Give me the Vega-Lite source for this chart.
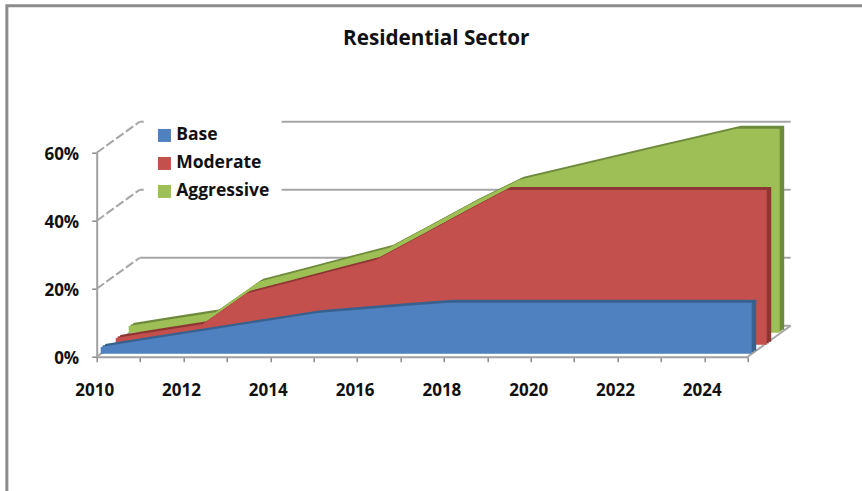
{
  "$schema": "https://vega.github.io/schema/vega-lite/v6.json",
  "width": 651,
  "height": 204,
  "autosize": {"type": "none"},
  "padding": {"left": 96.7, "top": 152.7, "right": 114.3, "bottom": 134.3},
  "background": "white",
  "title": {
    "text": "Residential Sector",
    "font": "Open Sans",
    "fontWeight": "bold",
    "fontSize": 20.7,
    "color": "#111111",
    "anchor": "middle",
    "dx": 14,
    "offset": -45
  },
  "config": {"view": {"stroke": null}},
  "datasets": {
    "walls": [
      {"start": 2010, "end": 2025, "level": 0},
      {"start": 2010, "end": 2025, "level": 0.2},
      {"start": 2010, "end": 2025, "level": 0.4},
      {"start": 2010, "end": 2025, "level": 0.6}
    ],
    "receding": [
      {"start": 2010, "level": 0},
      {"start": 2010, "level": 0.2},
      {"start": 2010, "level": 0.4},
      {"start": 2010, "level": 0.6}
    ],
    "series": [
      {"year": 2010, "series": "Base", "value": 0.02},
      {"year": 2011, "series": "Base", "value": 0.04},
      {"year": 2012, "series": "Base", "value": 0.06},
      {"year": 2013, "series": "Base", "value": 0.08},
      {"year": 2014, "series": "Base", "value": 0.10},
      {"year": 2015, "series": "Base", "value": 0.12},
      {"year": 2016, "series": "Base", "value": 0.13},
      {"year": 2017, "series": "Base", "value": 0.14},
      {"year": 2018, "series": "Base", "value": 0.15},
      {"year": 2019, "series": "Base", "value": 0.15},
      {"year": 2020, "series": "Base", "value": 0.15},
      {"year": 2021, "series": "Base", "value": 0.15},
      {"year": 2022, "series": "Base", "value": 0.15},
      {"year": 2023, "series": "Base", "value": 0.15},
      {"year": 2024, "series": "Base", "value": 0.15},
      {"year": 2025, "series": "Base", "value": 0.15},
      {"year": 2010, "series": "Moderate", "value": 0.02},
      {"year": 2011, "series": "Moderate", "value": 0.04},
      {"year": 2012, "series": "Moderate", "value": 0.06},
      {"year": 2013, "series": "Moderate", "value": 0.15},
      {"year": 2014, "series": "Moderate", "value": 0.183},
      {"year": 2015, "series": "Moderate", "value": 0.217},
      {"year": 2016, "series": "Moderate", "value": 0.25},
      {"year": 2017, "series": "Moderate", "value": 0.318},
      {"year": 2018, "series": "Moderate", "value": 0.387},
      {"year": 2019, "series": "Moderate", "value": 0.455},
      {"year": 2020, "series": "Moderate", "value": 0.455},
      {"year": 2021, "series": "Moderate", "value": 0.455},
      {"year": 2022, "series": "Moderate", "value": 0.455},
      {"year": 2023, "series": "Moderate", "value": 0.455},
      {"year": 2024, "series": "Moderate", "value": 0.455},
      {"year": 2025, "series": "Moderate", "value": 0.455},
      {"year": 2010, "series": "Aggressive", "value": 0.02},
      {"year": 2011, "series": "Aggressive", "value": 0.04},
      {"year": 2012, "series": "Aggressive", "value": 0.06},
      {"year": 2013, "series": "Aggressive", "value": 0.15},
      {"year": 2014, "series": "Aggressive", "value": 0.183},
      {"year": 2015, "series": "Aggressive", "value": 0.217},
      {"year": 2016, "series": "Aggressive", "value": 0.25},
      {"year": 2017, "series": "Aggressive", "value": 0.318},
      {"year": 2018, "series": "Aggressive", "value": 0.387},
      {"year": 2019, "series": "Aggressive", "value": 0.45},
      {"year": 2020, "series": "Aggressive", "value": 0.48},
      {"year": 2021, "series": "Aggressive", "value": 0.51},
      {"year": 2022, "series": "Aggressive", "value": 0.54},
      {"year": 2023, "series": "Aggressive", "value": 0.57},
      {"year": 2024, "series": "Aggressive", "value": 0.60},
      {"year": 2025, "series": "Aggressive", "value": 0.60}
    ]
  },
  "data": {"name": "series"},
  "encoding": {
    "x": {
      "field": "year",
      "type": "quantitative",
      "title": null,
      "scale": {"domain": [2010, 2025], "nice": false, "zero": false},
      "axis": {
        "values": [2010, 2011, 2012, 2013, 2014, 2015, 2016, 2017, 2018, 2019, 2020, 2021, 2022, 2023, 2024, 2025],
        "labelExpr": "datum.value % 2 === 0 && datum.value < 2025 ? format(datum.value, 'd') : ''",
        "grid": false,
        "labelFont": "Open Sans",
        "labelFontWeight": "bold",
        "labelFontSize": 17,
        "labelColor": "#111111",
        "labelPadding": 21,
        "labelOffset": -2.5,
        "labelOverlap": false,
        "labelFlush": false,
        "tickSize": 5,
        "tickColor": "#8a8a8a",
        "tickWidth": 1.5,
        "domainColor": "#a0a0a0",
        "domainWidth": 2
      }
    },
    "y": {
      "field": "value",
      "type": "quantitative",
      "title": null,
      "scale": {"domain": [0, 0.6], "nice": false},
      "axis": {
        "values": [0, 0.2, 0.4, 0.6],
        "format": ".0%",
        "grid": false,
        "labelFont": "Open Sans",
        "labelFontWeight": "bold",
        "labelFontSize": 17,
        "labelColor": "#111111",
        "labelPadding": 13,
        "labelOffset": 2,
        "tickSize": 5,
        "tickColor": "#8a8a8a",
        "tickWidth": 1.5,
        "domainColor": "#a0a0a0",
        "domainWidth": 2
      }
    }
  },
  "layer": [
    {
      "description": "Outer chart frame",
      "data": {"values": [{"left": 2007.93, "right": 2028, "bottom": -0.42, "top": 1.032}]},
      "mark": {"type": "rect", "fill": null, "stroke": "#8c8c8c", "strokeWidth": 3, "clip": false},
      "encoding": {
        "x": {"field": "left", "type": "quantitative", "title": null},
        "x2": {"field": "right"},
        "y": {"field": "bottom", "type": "quantitative", "title": null},
        "y2": {"field": "top"}
      }
    },
    {
      "description": "Back wall gridlines",
      "data": {"name": "walls"},
      "mark": {"type": "rule", "stroke": "#a6a6a6", "strokeWidth": 2, "xOffset": 43, "x2Offset": 43, "yOffset": -31},
      "encoding": {
        "x": {"field": "start", "type": "quantitative", "title": null},
        "x2": {"field": "end"},
        "y": {"field": "level", "type": "quantitative", "title": null}
      }
    },
    {
      "description": "Side wall receding lines",
      "data": {"name": "receding"},
      "mark": {"type": "rule", "stroke": "#a6a6a6", "strokeWidth": 2, "strokeDash": [9, 3], "x2Offset": 43, "y2Offset": -31},
      "encoding": {
        "x": {"field": "start", "type": "quantitative", "title": null},
        "x2": {"field": "start"},
        "y": {"field": "level", "type": "quantitative", "title": null},
        "y2": {"field": "level"}
      }
    },
    {
      "description": "Floor edge at the right",
      "data": {"values": [{"start": 2025, "level": 0}]},
      "mark": {"type": "rule", "stroke": "#a6a6a6", "strokeWidth": 2, "x2Offset": 43, "y2Offset": -31},
      "encoding": {
        "x": {"field": "start", "type": "quantitative", "title": null},
        "x2": {"field": "start"},
        "y": {"field": "level", "type": "quantitative", "title": null},
        "y2": {"field": "level"}
      }
    },
    {
      "description": "Aggressive depth",
      "transform": [{"filter": "datum.series === 'Aggressive'"}],
      "mark": {"type": "area", "color": "#6e8a3c", "xOffset": 36.5, "yOffset": -27, "y2Offset": -27},
      "encoding": {"y2": {"datum": 0}}
    },
    {
      "description": "Aggressive depth, midway",
      "transform": [{"filter": "datum.series === 'Aggressive'"}],
      "mark": {"type": "area", "color": "#6e8a3c", "xOffset": 34, "yOffset": -25.5, "y2Offset": -25.5},
      "encoding": {"y2": {"datum": 0}}
    },
    {
      "description": "Aggressive face",
      "transform": [{"filter": "datum.series === 'Aggressive'"}],
      "mark": {"type": "area", "xOffset": 32, "yOffset": -24, "y2Offset": -24},
      "encoding": {
        "y2": {"datum": 0},
        "color": {
          "field": "series",
          "type": "nominal",
          "title": null,
          "scale": {"domain": ["Base", "Moderate", "Aggressive"], "range": ["#4f81c0", "#c4504d", "#9dbf56"]},
          "legend": {
            "orient": "none",
            "legendX": 47,
            "legendY": -38,
            "padding": 12,
            "fillColor": "white",
            "symbolType": "square",
            "symbolSize": 169,
            "symbolStrokeWidth": 0,
            "labelFont": "Open Sans",
            "labelFontWeight": "bold",
            "labelFontSize": 17.5,
            "labelColor": "#111111",
            "labelOffset": 3,
            "rowPadding": 9
          }
        }
      }
    },
    {
      "description": "Moderate depth",
      "transform": [{"filter": "datum.series === 'Moderate'"}],
      "mark": {"type": "area", "color": "#8e3634", "xOffset": 23.5, "yOffset": -15, "y2Offset": -15},
      "encoding": {"y2": {"datum": 0}}
    },
    {
      "description": "Moderate depth, midway",
      "transform": [{"filter": "datum.series === 'Moderate'"}],
      "mark": {"type": "area", "color": "#8e3634", "xOffset": 21, "yOffset": -13.5, "y2Offset": -13.5},
      "encoding": {"y2": {"datum": 0}}
    },
    {
      "description": "Moderate face",
      "transform": [{"filter": "datum.series === 'Moderate'"}],
      "mark": {"type": "area", "xOffset": 19, "yOffset": -12, "y2Offset": -12},
      "encoding": {
        "y2": {"datum": 0},
        "color": {"field": "series", "type": "nominal", "title": null}
      }
    },
    {
      "description": "Base depth",
      "transform": [{"filter": "datum.series === 'Base'"}],
      "mark": {"type": "area", "color": "#38618f", "xOffset": 8.5, "yOffset": -6, "y2Offset": -6},
      "encoding": {"y2": {"datum": 0}}
    },
    {
      "description": "Base depth, midway",
      "transform": [{"filter": "datum.series === 'Base'"}],
      "mark": {"type": "area", "color": "#38618f", "xOffset": 6, "yOffset": -4.5, "y2Offset": -4.5},
      "encoding": {"y2": {"datum": 0}}
    },
    {
      "description": "Base face",
      "transform": [{"filter": "datum.series === 'Base'"}],
      "mark": {"type": "area", "xOffset": 4, "yOffset": -3, "y2Offset": -3},
      "encoding": {
        "y2": {"datum": 0},
        "color": {"field": "series", "type": "nominal", "title": null}
      }
    }
  ]
}
